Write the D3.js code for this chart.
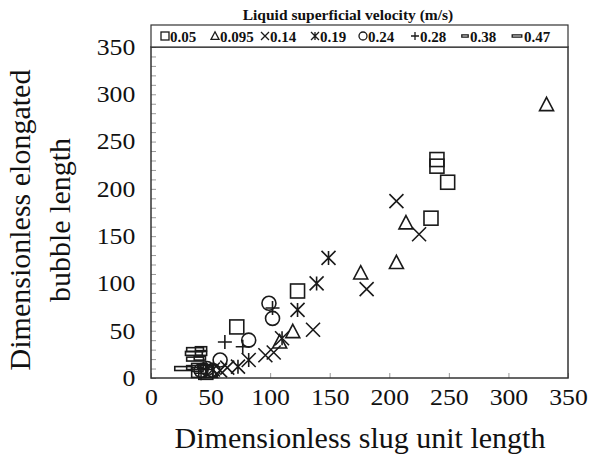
<!DOCTYPE html>
<html>
<head>
    <title>Elongated bubble length vs slug unit length</title>
    <script src="https://d3js.org/d3.v7.min.js"></script>
    <style>
        body { margin: 0; background-color: #ffffff; }
        text { font-family: "Liberation Serif", "Times New Roman", serif; fill: #111; }
    </style>
</head>
<body>
    <script>
        // series: [slug unit length, elongated bubble length]
        const velocities = ["0.05", "0.095", "0.14", "0.19", "0.24", "0.28", "0.38", "0.47"];
        const markers = ["square", "triangle", "cross", "asterisk", "circle", "plus", "dash", "longdash"];

        const v005 = [[240, 231], [240, 224], [249, 207], [235, 169], [123, 92], [72, 54], [40, 8], [46, 6]];
        const v0095 = [[332, 289], [214, 164], [206, 122], [176, 111], [119, 49], [108, 38], [50, 7]];
        const v014 = [[206, 187], [225, 152], [181, 94], [136, 51], [96, 24], [103, 27], [58, 8], [64, 11]];
        const v019 = [[149, 127], [139, 100], [123, 72], [110, 42], [82, 19], [73, 12], [52, 9]];
        const v024 = [[99, 79], [102, 63], [82, 40], [58, 19], [47, 10], [52, 8], [42, 8]];
        const v028 = [[102, 74], [62, 38], [77, 33], [42, 5], [46, 9]];
        const v038 = [[42, 31], [42, 26], [41, 21], [44, 12], [39, 9]];
        const v047 = [[37, 30], [36, 26], [37, 20], [27, 10], [37, 11]];
        const seriesValues = [v005, v0095, v014, v019, v024, v028, v038, v047];

        const xTicks = [0, 50, 100, 150, 200, 250, 300, 350];
        const yTicks = d3.range(0, 351, 10);

        const width = 589, height = 460;
        const plot = {left: 151, right: 568, top: 47, bottom: 378};

        const svg = d3.select("body").append("svg")
            .attr("width", width)
            .attr("height", height);

        const x = d3.scaleLinear().domain([0, 350]).range([plot.left, plot.right]);
        const y = d3.scaleLinear().domain([0, 350]).range([plot.bottom, plot.top]);

        // marker shapes, s = half size
        function drawMarker(g, type, s, sw) {
            const ink = "#1a1a1a";
            if (type === "square") {
                g.append("rect").attr("x", -s).attr("y", -s).attr("width", 2 * s).attr("height", 2 * s)
                    .attr("fill", "none").attr("stroke", ink).attr("stroke-width", sw);
            } else if (type === "triangle") {
                g.append("path").attr("d", `M0,${-s * 1.05}L${s},${s * 0.85}L${-s},${s * 0.85}Z`)
                    .attr("fill", "none").attr("stroke", ink).attr("stroke-width", sw);
            } else if (type === "cross") {
                g.append("path").attr("d", `M${-s},${-s}L${s},${s}M${s},${-s}L${-s},${s}`)
                    .attr("stroke", ink).attr("stroke-width", sw);
            } else if (type === "asterisk") {
                g.append("path").attr("d", `M${-s},${-s}L${s},${s}M${s},${-s}L${-s},${s}M0,${-s}L0,${s}`)
                    .attr("stroke", ink).attr("stroke-width", sw);
            } else if (type === "circle") {
                g.append("circle").attr("r", s)
                    .attr("fill", "none").attr("stroke", ink).attr("stroke-width", sw);
            } else if (type === "plus") {
                g.append("path").attr("d", `M${-s},0L${s},0M0,${-s}L0,${s}`)
                    .attr("stroke", ink).attr("stroke-width", sw);
            } else if (type === "dash") {
                g.append("rect").attr("x", -s * 0.8).attr("y", -s * 0.28).attr("width", s * 1.6).attr("height", s * 0.56)
                    .attr("fill", "none").attr("stroke", ink).attr("stroke-width", sw);
            } else if (type === "longdash") {
                g.append("rect").attr("x", -s * 1.2).attr("y", -s * 0.28).attr("width", s * 2.4).attr("height", s * 0.56)
                    .attr("fill", "none").attr("stroke", ink).attr("stroke-width", sw);
            }
        }

        // X axis (ticks point inward)
        const xAxis = svg.append("g")
            .attr("transform", "translate(0," + plot.bottom + ")")
            .call(d3.axisBottom(x).tickValues(xTicks).tickSize(-5).tickPadding(11).tickSizeOuter(0));
        xAxis.selectAll("text").style("font-size", "23px").style("font-family", "Liberation Serif")
            .attr("transform", "scale(1.12,1)");
        xAxis.selectAll("line").attr("stroke", "#999");
        xAxis.select(".domain").remove();

        // Y axis, minor ticks every 10
        const yAxis = svg.append("g")
            .attr("transform", "translate(" + plot.left + ",0)")
            .call(d3.axisLeft(y).tickValues(yTicks).tickSize(-5).tickPadding(14).tickSizeOuter(0)
                .tickFormat(d => d % 50 === 0 ? d : ""));
        yAxis.selectAll("text").style("font-size", "23px").style("font-family", "Liberation Serif")
            .attr("transform", "scale(1.12,1)");
        yAxis.selectAll("line").attr("stroke", "#999");
        yAxis.select(".domain").remove();

        // plot frame
        svg.append("rect")
            .attr("x", plot.left).attr("y", plot.top)
            .attr("width", plot.right - plot.left).attr("height", plot.bottom - plot.top)
            .attr("fill", "none").attr("stroke", "#333").attr("stroke-width", 1.5);

        // points
        seriesValues.forEach(function (vals, i) {
            vals.forEach(function (d) {
                const g = svg.append("g").attr("transform", "translate(" + x(d[0]) + "," + y(d[1]) + ")");
                drawMarker(g, markers[i], 7, 1.6);
            });
        });

        // legend
        svg.append("text")
            .attr("x", 348).attr("y", 20)
            .attr("text-anchor", "middle")
            .style("font-size", "15.5px").style("font-weight", "bold")
            .text("Liquid superficial velocity (m/s)");

        svg.append("rect")
            .attr("x", plot.left).attr("y", 25)
            .attr("width", plot.right - plot.left).attr("height", plot.top - 25)
            .attr("fill", "#fff").attr("stroke", "#333").attr("stroke-width", 1.2);

        const legendX = [165, 215, 265, 315, 363, 415, 465, 517];
        velocities.forEach(function (v, i) {
            const g = svg.append("g").attr("transform", "translate(" + legendX[i] + ",36)");
            drawMarker(g, markers[i], 4, 1.3);
            g.append("text")
                .attr("x", i === 7 ? 7 : 5).attr("y", 5.5)
                .style("font-size", "15px").style("font-weight", "bold")
                .text(v);
        });

        // axis titles
        svg.append("text")
            .attr("x", 360).attr("y", 448)
            .attr("text-anchor", "middle")
            .style("font-size", "30px")
            .text("Dimensionless slug unit length");

        const yTitle = svg.append("text")
            .attr("transform", "translate(0,220) rotate(-90)")
            .attr("text-anchor", "middle")
            .style("font-size", "30px");
        yTitle.append("tspan").attr("x", 0).attr("y", 30).text("Dimensionless elongated");
        yTitle.append("tspan").attr("x", 0).attr("y", 70).text("bubble length");
    </script>
</body>
</html>
